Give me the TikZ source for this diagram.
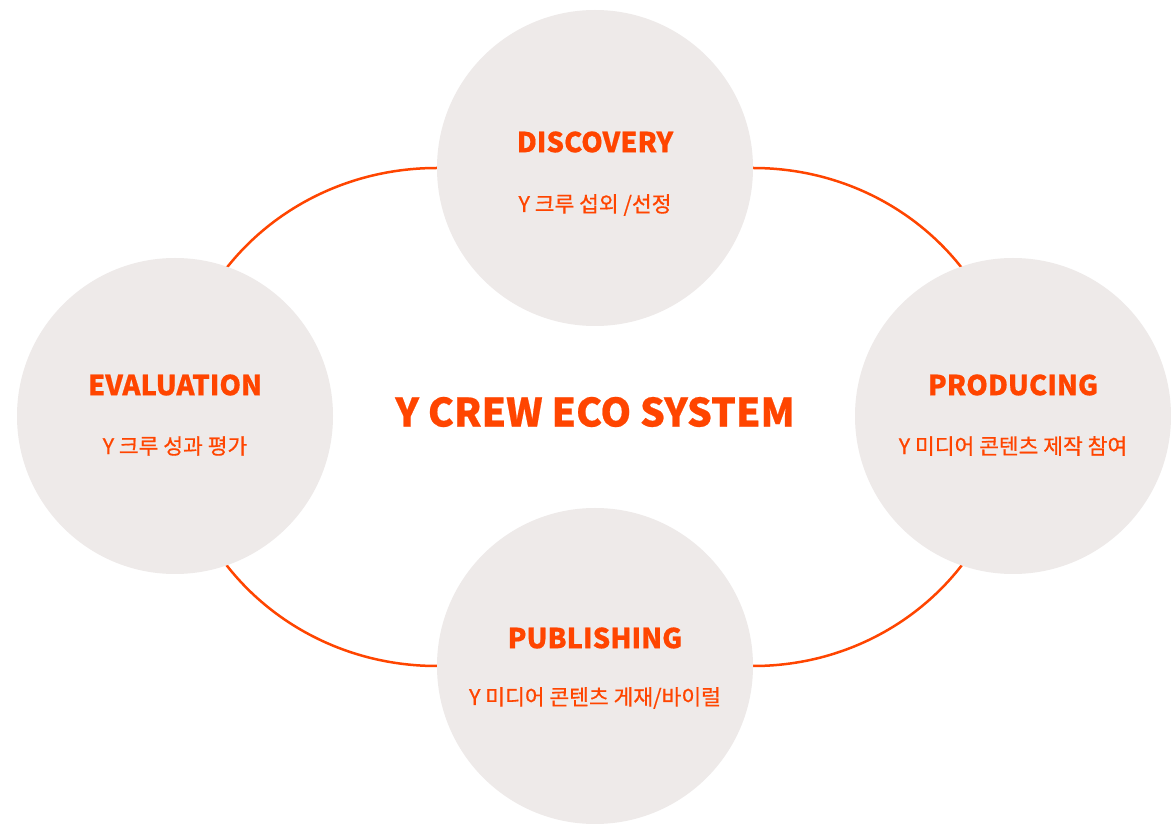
\documentclass[tikz,border=0pt]{standalone}
\usepackage{fontspec}
\newfontfamily\kr{Noto Sans CJK KR}
\newfontfamily\krs{Noto Sans CJK KR}[FakeBold=0.6]
\newfontfamily\krb{Noto Sans CJK KR}[UprightFont=*, BoldFont=*, BoldFeatures={FakeBold=1.2}]
\usetikzlibrary{backgrounds}
\definecolor{accent}{HTML}{FF4500}
\definecolor{disc}{HTML}{EEEAE9}
\begin{document}
\begin{tikzpicture}[x=1pt,y=1pt,
  stage/.style={circle,fill=disc,minimum size=316pt,inner sep=0pt},
  ttl/.style={text=accent,font=\krs\bfseries\fontsize{27.5}{32}\selectfont,anchor=center},
  sub/.style={text=accent,font=\krs\fontsize{21.5}{26}\selectfont,anchor=center},
  loop/.style={draw=accent,line width=2.5pt}]
\useasboundingbox (0,0) rectangle (1171,823);
\node[stage] (disc) at (595,655) {};
\node[stage] (eval) at (175,407) {};
\node[stage] (prod) at (1013,407) {};
\node[stage] (pub) at (595,157) {};
\begin{scope}[on background layer]
\fill[white] (0,0) rectangle (1171,823);
\draw[loop] (disc.east) arc[start angle=90,end angle=0,x radius=260,y radius=248];
\draw[loop] (pub.east) arc[start angle=-90,end angle=0,x radius=260,y radius=250];
\draw[loop] (pub.west) arc[start angle=270,end angle=180,x radius=262,y radius=250];
\draw[loop] (disc.west) arc[start angle=90,end angle=180,x radius=262,y radius=248];
\end{scope}
\node[ttl] (t1) at (595,681) {DISCOVERY};
\node[sub] (s1) at (595,618) {Y 크루 섭외 /선정};
\node[ttl] (t2) at (175,438) {EVALUATION};
\node[sub] (s2) at (175,377) {Y 크루 성과 평가};
\node[ttl] (t3) at (1013,438) {PRODUCING};
\node[sub] (s3) at (1013,377) {Y 미디어 콘텐츠 제작 참여};
\node[ttl] (t4) at (595,185) {PUBLISHING};
\node[sub] (s4) at (595,125) {Y 미디어 콘텐츠 게재/바이럴};
\node[text=accent,font=\krs\bfseries\fontsize{39}{46}\selectfont] (main) at (595,411) {Y CREW ECO SYSTEM};
\end{tikzpicture}
\end{document}
